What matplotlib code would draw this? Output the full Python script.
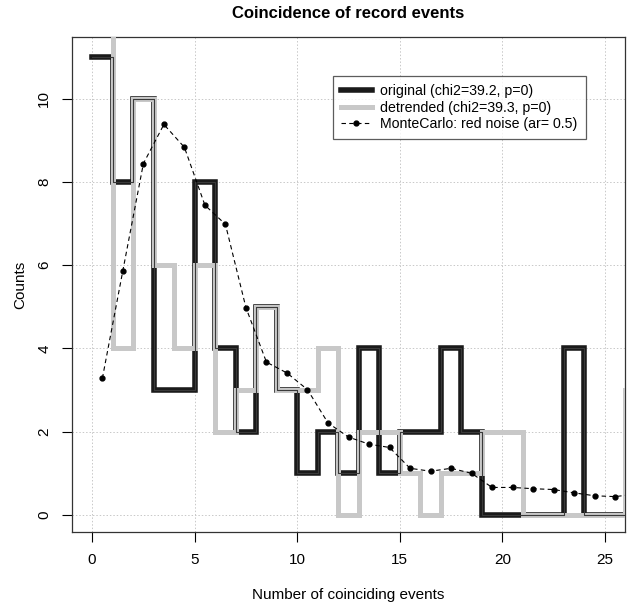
import matplotlib.pyplot as plt
import numpy as np

plt.rcParams['font.family'] = ['Liberation Sans', 'DejaVu Sans']

# step data (value of each bin starting at x)
x_orig = np.arange(0, 27)
original = [11, 8, 10, 3, 3, 8, 4, 2, 5, 3, 1, 2, 1, 4, 1, 2, 2, 4, 2, 0, 0, 0, 0, 4, 0, 0, 0]
x_detr = np.arange(0, 28)
detrended = [12, 4, 10, 6, 4, 6, 2, 3, 5, 3, 3, 4, 0, 2, 2, 1, 0, 1, 1, 2, 2, 0, 0, 0, 0, 0, 3, 3]

# Monte Carlo red noise (bin centres)
x_mc = np.arange(0.5, 27, 1.0)
montecarlo = [3.28, 5.87, 8.44, 9.38, 8.83, 7.44, 6.98, 4.98, 3.67, 3.41, 3.01, 2.21,
              1.87, 1.70, 1.62, 1.12, 1.05, 1.12, 1.0, 0.66, 0.66, 0.63, 0.61, 0.53,
              0.46, 0.44, 0.5]

xticks = [0, 5, 10, 15, 20, 25]
yticks = [0, 2, 4, 6, 8, 10]

fig = plt.figure(figsize=(6.27, 6.13), dpi=100)
ax = fig.add_axes([72/627, 1-532/613, (625-72)/627, (532-37)/613])

for t in xticks:
    ax.axvline(t, color='#c8c8c8', lw=0.7, ls=(0, (1.5, 2)), zorder=0)
for t in yticks:
    ax.axhline(t, color='#c8c8c8', lw=0.7, ls=(0, (1.5, 2)), zorder=0)

ax.step(x_orig, original, where='post', color='#1a1a1a', lw=4, zorder=2,
        solid_joinstyle='miter', label='original (chi2=39.2, p=0)')
ax.step(x_detr, detrended, where='post', color='#c8c8c8', lw=3.6, zorder=3,
        solid_joinstyle='miter', label='detrended (chi2=39.3, p=0)')
ax.step(x_orig, original, where='post', color='#3a3a3a', lw=0.8, zorder=4)
ax.plot(x_mc, montecarlo, color='black', lw=0.8, ls=(0, (4, 3)), marker='o',
        markersize=3.5, zorder=5, label='MonteCarlo: red noise (ar= 0.5)')

ax.set_xlim(-0.98, 25.98)
ax.set_ylim(-0.41, 11.48)
ax.set_xticks(xticks)
ax.set_yticks(yticks)
ax.set_yticklabels([str(t) for t in yticks], rotation=90, va='center')
ax.tick_params(direction='out', length=7, width=0.8, labelsize=11, pad=8)
for s in ax.spines.values():
    s.set_linewidth(0.9)
    s.set_color('#333333')

ax.set_xlabel('Number of coinciding events', fontsize=11, labelpad=15)
ax.set_ylabel('Counts', fontsize=11, labelpad=7)
ax.set_title('Coincidence of record events', fontsize=12, fontweight='bold', pad=14)

leg = ax.legend(loc='upper left', bbox_to_anchor=((333-72)/553, (532-76)/495),
                borderaxespad=0, fontsize=10.2, frameon=True, fancybox=False,
                edgecolor='#333333', handlelength=2.2, borderpad=0.55,
                labelspacing=0.2, handletextpad=0.6)
leg.get_frame().set_linewidth(0.9)

fig.savefig('out.png', dpi=100)
